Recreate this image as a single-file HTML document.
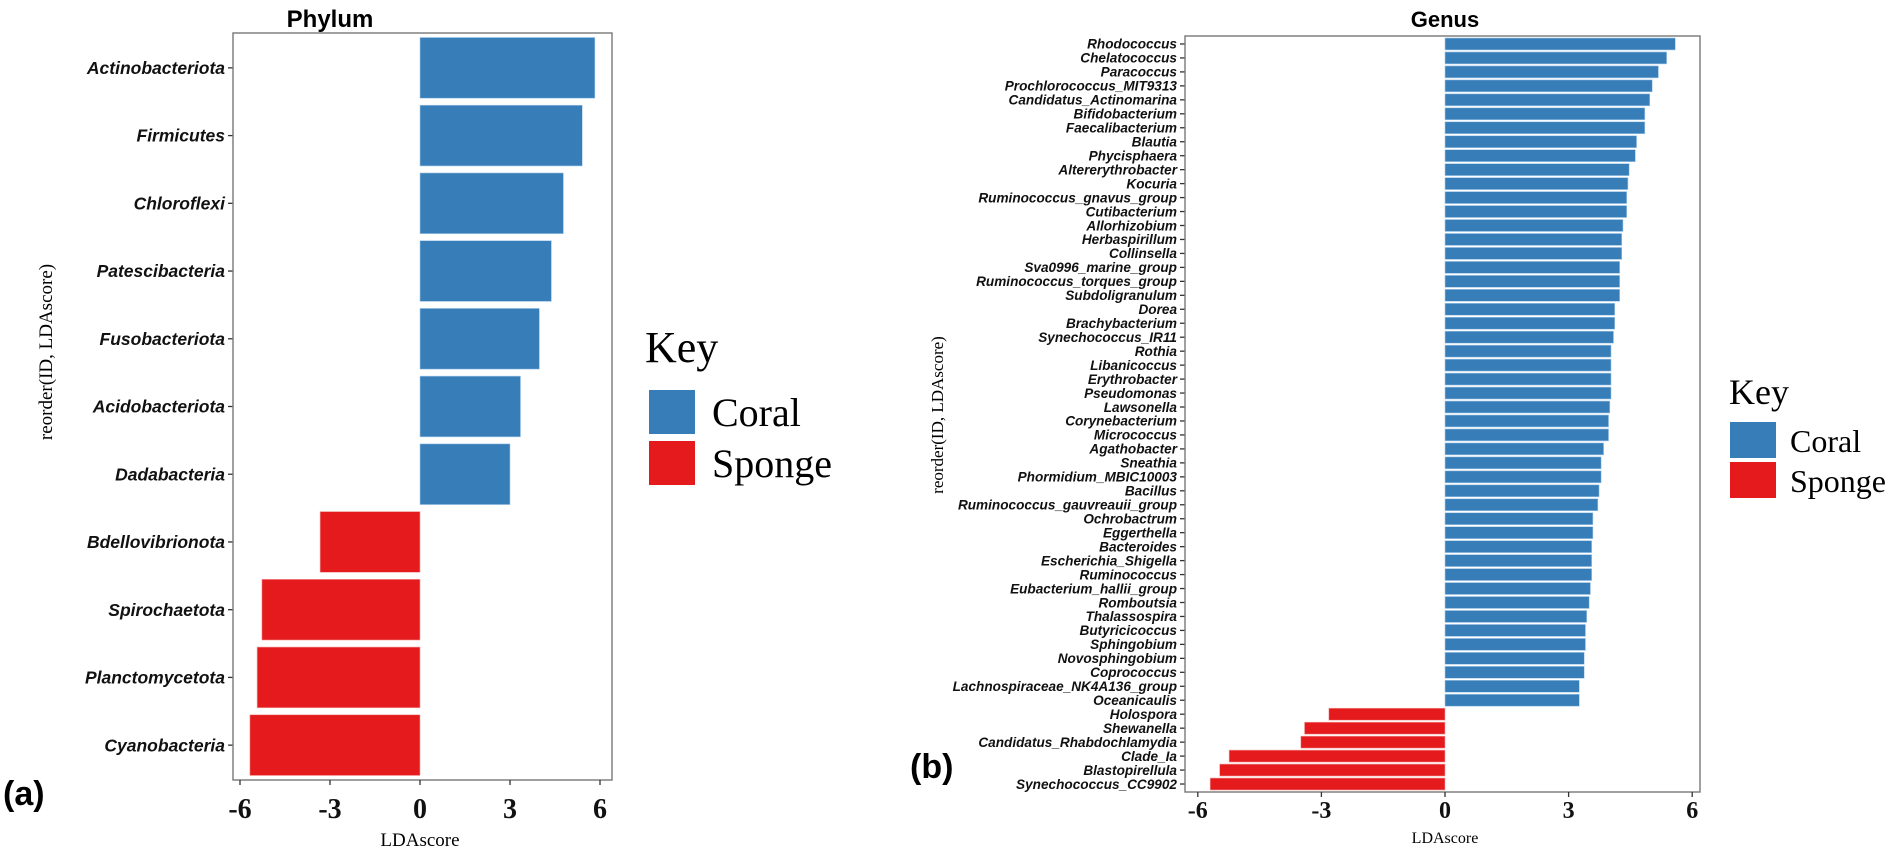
<!DOCTYPE html>
<html><head><meta charset="utf-8"><style>
html,body{margin:0;padding:0;background:#fff;}
svg text{font-family:"Liberation Sans",sans-serif;}
.ser{font-family:"Liberation Serif",serif !important;}
</style></head><body>
<svg id="chart" width="1901" height="851" viewBox="0 0 1901 851" xmlns="http://www.w3.org/2000/svg">
<g id="pa"></g>
<g id="pb"></g>
</svg>
<script>
const phylumNames = ["Actinobacteriota","Firmicutes","Chloroflexi","Patescibacteria","Fusobacteriota","Acidobacteriota","Dadabacteria","Bdellovibrionota","Spirochaetota","Planctomycetota","Cyanobacteria"];
const phylumScores = [5.83,5.41,4.78,4.38,3.98,3.35,3.0,-3.33,-5.27,-5.43,-5.67];
const genusNames = ["Rhodococcus","Chelatococcus","Paracoccus","Prochlorococcus_MIT9313","Candidatus_Actinomarina","Bifidobacterium","Faecalibacterium","Blautia","Phycisphaera","Altererythrobacter","Kocuria","Ruminococcus_gnavus_group","Cutibacterium","Allorhizobium","Herbaspirillum","Collinsella","Sva0996_marine_group","Ruminococcus_torques_group","Subdoligranulum","Dorea","Brachybacterium","Synechococcus_IR11","Rothia","Libanicoccus","Erythrobacter","Pseudomonas","Lawsonella","Corynebacterium","Micrococcus","Agathobacter","Sneathia","Phormidium_MBIC10003","Bacillus","Ruminococcus_gauvreauii_group","Ochrobactrum","Eggerthella","Bacteroides","Escherichia_Shigella","Ruminococcus","Eubacterium_hallii_group","Romboutsia","Thalassospira","Butyricicoccus","Sphingobium","Novosphingobium","Coprococcus","Lachnospiraceae_NK4A136_group","Oceanicaulis","Holospora","Shewanella","Candidatus_Rhabdochlamydia","Clade_Ia","Blastopirellula","Synechococcus_CC9902"];
const genusScores = [5.59,5.38,5.18,5.03,4.97,4.85,4.85,4.65,4.62,4.47,4.44,4.41,4.41,4.32,4.29,4.29,4.24,4.24,4.24,4.12,4.12,4.09,4.03,4.03,4.03,4.03,4.0,3.97,3.97,3.85,3.79,3.79,3.74,3.71,3.59,3.59,3.56,3.56,3.56,3.53,3.5,3.44,3.41,3.41,3.38,3.38,3.26,3.26,-2.82,-3.41,-3.5,-5.24,-5.47,-5.7];
const xTicks = [-6,-3,0,3,6];
const NS="http://www.w3.org/2000/svg";
function mk(parent,tag,attrs,text){const e=document.createElementNS(NS,tag);for(const k in attrs)e.setAttribute(k,attrs[k]);if(text!==undefined)e.textContent=text;parent.appendChild(e);return e;}

function panel(g,cfg,names,scores){
  const xs=v=>cfg.zero+v*cfg.ppu;
  const band=(cfg.bottom-cfg.top)/names.length;
  const ys=i=>cfg.top+cfg.pad+band*i;
  const bw=band-cfg.gap;
  names.forEach((n,i)=>{
    const v=scores[i];
    const x0=Math.min(xs(0),xs(v)), w=Math.abs(xs(v)-xs(0));
    const r=mk(g,'rect',{x:x0,y:ys(i)+cfg.gap/2,width:w,height:bw,fill:v>=0?'#377EB8':'#E41A1C',stroke:v>=0?'#A9CBEA':'#F4A7A7','stroke-width':0.6});
    
    
    const t=mk(g,'text',{x:cfg.left-cfg.tick-3,y:ys(i)+band/2+cfg.lfs*0.35,'text-anchor':'end','font-size':cfg.lfs,'font-weight':'bold','font-style':'italic',fill:'#111'},n);
    
    
    mk(g,'line',{x1:cfg.left-cfg.tick,x2:cfg.left,y1:ys(i)+band/2,y2:ys(i)+band/2,stroke:'#333','stroke-width':1.3});
  });
  const fr=mk(g,'rect',{x:cfg.left,y:cfg.top,width:cfg.right-cfg.left,height:cfg.bottom+cfg.pad*2-cfg.top,fill:'none',stroke:'#777','stroke-width':1.4});
  
  
  const axB=cfg.bottom+cfg.pad*2;
  xTicks.forEach(v=>{
    mk(g,'line',{x1:xs(v),x2:xs(v),y1:axB,y2:axB+cfg.tick,stroke:'#333','stroke-width':1.3});
    const t=mk(g,'text',{x:xs(v),y:cfg.tickY,'text-anchor':'middle','font-size':cfg.tfs,'font-weight':'bold',class:'ser',fill:'#111'},String(v));
    
    
  });
}

const pa=document.getElementById('pa'), pb=document.getElementById('pb');
panel(pa,{left:233,right:612,top:33,bottom:778,pad:1,zero:420,ppu:30,gap:7,tick:5,lfs:17.5,tfs:28,tickY:818},phylumNames,phylumScores);
panel(pb,{left:1185,right:1700,top:36,bottom:790,pad:1,zero:1445,ppu:41.2,gap:2,tick:5,lfs:13.6,tfs:24,tickY:818},genusNames,genusScores);
</script>
<script>
const svg=document.getElementById('chart');
function T(attrs,text,name){const e=document.createElementNS("http://www.w3.org/2000/svg",'text');for(const k in attrs)e.setAttribute(k,attrs[k]);e.textContent=text;


svg.appendChild(e);return e;}
function R(attrs,name){const e=document.createElementNS("http://www.w3.org/2000/svg",'rect');for(const k in attrs)e.setAttribute(k,attrs[k]);


svg.appendChild(e);return e;}
T({x:330,y:27,'text-anchor':'middle','font-size':24,'font-weight':'bold'},'Phylum','phylum-title');
T({x:1445,y:27,'text-anchor':'middle','font-size':22,'font-weight':'bold'},'Genus','genus-title');
T({x:420,y:846,'text-anchor':'middle','font-size':19,class:'ser'},'LDAscore','x-axis-title-a');
T({x:1445,y:843,'text-anchor':'middle','font-size':16,class:'ser'},'LDAscore','x-axis-title-b');
T({x:0,y:0,'text-anchor':'middle','font-size':19,class:'ser',transform:'translate(52,352) rotate(-90)'},'reorder(ID, LDAscore)','y-axis-title-a');
T({x:0,y:0,'text-anchor':'middle','font-size':17,class:'ser',transform:'translate(943,415) rotate(-90)'},'reorder(ID, LDAscore)','y-axis-title-b');
T({x:3,y:805,'font-size':34,'font-weight':'bold'},'(a)','panel-label-a');
T({x:910,y:778,'font-size':34,'font-weight':'bold'},'(b)','panel-label-b');
T({x:645,y:362,'font-size':44,class:'ser'},'Key','legend-title-a');
R({x:649,y:390,width:46,height:44,fill:'#377EB8'},'legend-coral-swatch-a');
R({x:649,y:441,width:46,height:44,fill:'#E41A1C'},'legend-sponge-swatch-a');
T({x:712,y:426,'font-size':40,class:'ser'},'Coral','legend-coral-label-a');
T({x:712,y:477,'font-size':40,class:'ser'},'Sponge','legend-sponge-label-a');
T({x:1729,y:404,'font-size':36,class:'ser'},'Key','legend-title-b');
R({x:1730,y:422,width:46,height:36,fill:'#377EB8'},'legend-coral-swatch-b');
R({x:1730,y:462,width:46,height:36,fill:'#E41A1C'},'legend-sponge-swatch-b');
T({x:1790,y:452,'font-size':32,class:'ser'},'Coral','legend-coral-label-b');
T({x:1790,y:492,'font-size':32,class:'ser'},'Sponge','legend-sponge-label-b');
</script>
</body></html>
